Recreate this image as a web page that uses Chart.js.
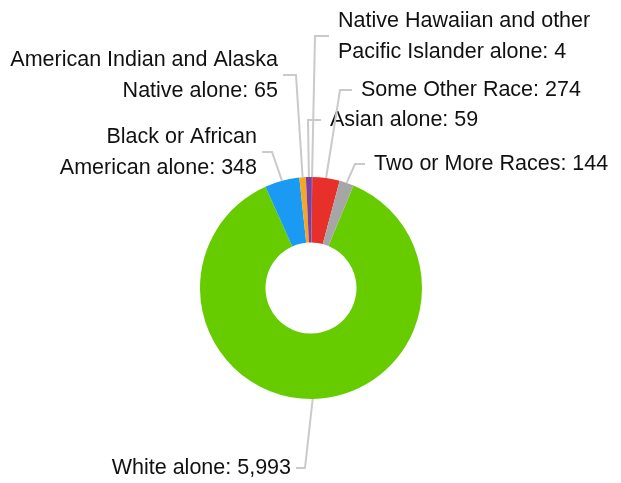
<!DOCTYPE html>
<html>
<head>
<meta charset="utf-8">
<script src="https://cdn.jsdelivr.net/npm/chart.js@4"></script>
<style>
  html, body { margin: 0; padding: 0; background: #fff; }
  #wrap { width: 621px; height: 483px; }
</style>
</head>
<body>
<div id="wrap"><canvas id="grafico" width="621" height="483"></canvas></div>
<script>
// dados
const categorias = [
    'White alone',
    'Black or African American alone',
    'American Indian and Alaska Native alone',
    'Asian alone',
    'Native Hawaiian and other Pacific Islander alone',
    'Some Other Race',
    'Two or More Races'
];
const valores = [5993, 348, 65, 59, 4, 274, 144];
// texto dos rótulos, quebrado como no original
const rotulos = [
    ['White alone: 5,993'],
    ['Black or African', 'American alone: 348'],
    ['American Indian and Alaska', 'Native alone: 65'],
    ['Asian alone: 59'],
    ['Native Hawaiian and other', 'Pacific Islander alone: 4'],
    ['Some Other Race: 274'],
    ['Two or More Races: 144']
];
const cores = ['#66cc00', '#1a9af2', '#f5a623', '#7b3fa0', '#2c3e8c', '#e8302a', '#a6a6a6'];

// posição do cotovelo de cada linha guia (relativo ao centro) e lado do texto
const guias = [
    { dx: -6, dy: 180, lado: 'esq', h: 9 },
    { dx: -39, dy: -136, lado: 'esq', h: 10 },
    { dx: -15, dy: -213, lado: 'esq', h: 13 },
    { dx: -3, dy: -168, lado: 'dir', h: 13 },
    { dx: 4, dy: -252, lado: 'dir', h: 14 },
    { dx: 29, dy: -198, lado: 'dir', h: 12 },
    { dx: 44, dy: -124, lado: 'dir', h: 10 }
];

const rotulosExternos = {
    id: 'rotulosExternos',
    afterDatasetsDraw(chart) {
        const ctx = chart.ctx;
        const arcos = chart.getDatasetMeta(0).data;
        ctx.save();
        ctx.font = '21.5px "Liberation Sans", Arial, sans-serif';
        ctx.textBaseline = 'middle';
        ctx.fillStyle = '#111';
        arcos.forEach((arco, i) => {
            const g = guias[i];
            const meio = (arco.startAngle + arco.endAngle) / 2;
            const ax = arco.x + Math.cos(meio) * arco.outerRadius;
            const ay = arco.y + Math.sin(meio) * arco.outerRadius;
            const ex = arco.x + g.dx;
            const ey = arco.y + g.dy;
            const fx = g.lado === 'esq' ? ex - g.h : ex + g.h;

            ctx.strokeStyle = '#cacaca';
            ctx.lineWidth = 2;
            ctx.beginPath();
            ctx.moveTo(ax, ay);
            ctx.lineTo(ex, ey);
            ctx.lineTo(fx, ey);
            ctx.stroke();

            const linhas = rotulos[i];
            const alt = 31;
            let y0 = ey - (linhas.length - 1) * alt / 2 + (linhas.length > 1 ? 1 : 0);
            ctx.textAlign = g.lado === 'esq' ? 'right' : 'left';
            const tx = g.lado === 'esq' ? fx - 5 : fx + 9;
            linhas.forEach((l, k) => ctx.fillText(l, tx, y0 + k * alt));
        });
        ctx.restore();
    }
};

new Chart(document.getElementById('grafico').getContext('2d'), {
    type: 'doughnut',
    data: {
        labels: categorias,
        datasets: [{
            data: valores,
            backgroundColor: cores,
            borderWidth: 0
        }]
    },
    options: {
        responsive: false,
        animation: false,
        cutout: '41%',
        rotation: 22.5,
        layout: { padding: { left: 200, right: 199, top: 177, bottom: 84 } },
        plugins: {
            legend: { display: false },
            tooltip: { enabled: false }
        }
    },
    plugins: [rotulosExternos]
});
</script>
</body>
</html>
